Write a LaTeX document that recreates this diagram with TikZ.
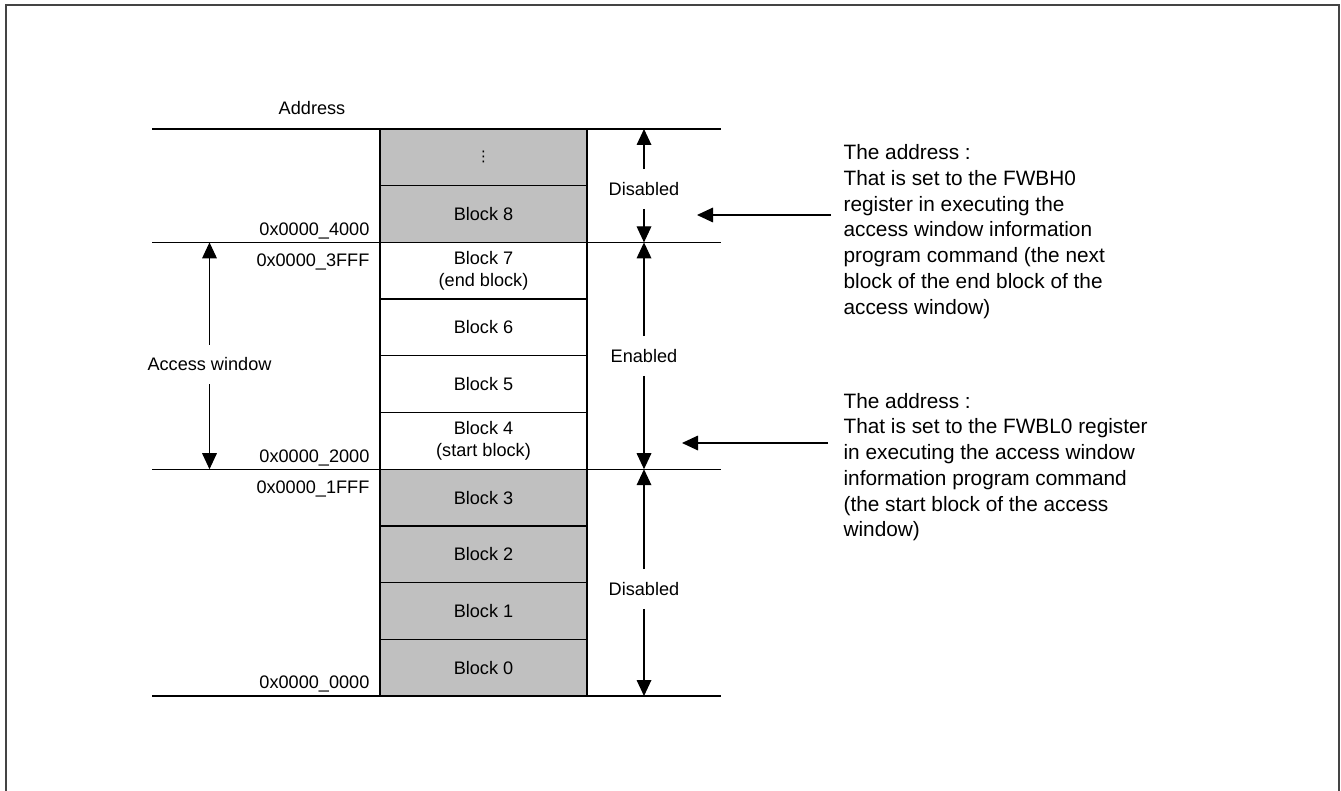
\documentclass[tikz,border=0pt]{standalone}
\usepackage{fontspec}
\setmainfont{Liberation Sans}
\newfontfamily\symfont{DejaVu Sans}
\usetikzlibrary{arrows.meta}
\definecolor{blockgray}{HTML}{C0C0C0}
\definecolor{framecol}{HTML}{444444}
\newcommand\mainfs{\fontsize{13.6pt}{16.9pt}\selectfont}
\newcommand\callfs{\fontsize{15.6pt}{19.3pt}\selectfont}
\begin{document}
\begin{tikzpicture}[x=0.75pt,y=-0.75pt,line width=0.9pt,
  every node/.style={font=\mainfs,inner sep=0pt},
  blk/.style={draw=black,line width=0.9pt,minimum width=155.25pt,minimum height=42.525pt,align=center},
  dis/.style={blk,fill=blockgray},
  ena/.style={blk,fill=white},
  rule/.style={line width=0.9pt},
  dim/.style={-{Triangle[length=12pt,width=11pt]},line width=0.9pt},
  lbl/.style={minimum height=29pt},
  addr/.style={anchor=base east},
  callout/.style={anchor=north west,align=left,font=\callfs}]
\useasboundingbox (0,0) rectangle (1341,791);
% frame
\draw[framecol,line width=1.3pt] (6,800) -- (6,5) -- (1339,5) -- (1339,800);

% horizontal rules
\coordinate (l1) at (152,129); \coordinate (r1) at (721,129);
\coordinate (l2) at (152,242.4); \coordinate (r2) at (721,242.4);
\coordinate (l3) at (152,469.2); \coordinate (r3) at (721,469.2);
\coordinate (l4) at (152,696); \coordinate (r4) at (721,696);
\draw[rule] (l1) -- (r1);
\draw[rule] (l2) -- (r2);
\draw[rule] (l3) -- (r3);
\draw[rule] (l4) -- (r4);

% blocks
\node[dis] (bdots) at (483.5,157.35) {{\symfont\fontsize{11pt}{12pt}\selectfont ⋮}};
\node[dis] (b8) at (483.5,214.05) {Block 8};
\node[ena] (b7) at (483.5,270.75) {Block 7\\(end block)};
\node[ena] (b6) at (483.5,327.45) {Block 6};
\node[ena] (b5) at (483.5,384.15) {Block 5};
\node[ena] (b4) at (483.5,440.85) {Block 4\\(start block)};
\node[dis] (b3) at (483.5,497.55) {Block 3};
\node[dis] (b2) at (483.5,554.25) {Block 2};
\node[dis] (b1) at (483.5,610.95) {Block 1};
\node[dis] (b0) at (483.5,667.65) {Block 0};

% address labels
\node (addrhead) at (312,108) {Address};
\node[addr] (a4000) at (370,236) {0x0000\_4000};
\node[addr] (a3fff) at (370,267) {0x0000\_3FFF};
\node[addr] (a2000) at (370,462) {0x0000\_2000};
\node[addr] (a1fff) at (370,493) {0x0000\_1FFF};
\node[addr] (a0000) at (370,688) {0x0000\_0000};

% access window
\node[lbl] (aw) at (209.5,364.5) {Access window};
\coordinate (awt) at (209.5,242.4);
\coordinate (awb) at (209.5,469.2);
\draw[dim] (aw) -- (awt);
\draw[dim] (aw) -- (awb);

% right dimension arrows
\node[lbl] (d1) at (644,189) {Disabled};
\coordinate (d1t) at (644,129); \coordinate (d1b) at (644,242.4);
\draw[dim] (d1) -- (d1t); \draw[dim] (d1) -- (d1b);
\node[lbl] (en) at (644,356) {Enabled};
\coordinate (ent) at (644,242.4); \coordinate (enb) at (644,469.2);
\draw[dim] (en) -- (ent); \draw[dim] (en) -- (enb);
\node[lbl] (d2) at (644,589) {Disabled};
\coordinate (d2t) at (644,469.2); \coordinate (d2b) at (644,696);
\draw[dim] (d2) -- (d2t); \draw[dim] (d2) -- (d2b);

% callouts
\node[callout] (c1) at (843,144) {The address :\\That is set to the FWBH0\\register in executing the\\access window information\\program command (the next\\block of the end block of the\\access window)};
\node[callout] (c2) at (843,392.5) {The address :\\That is set to the FWBL0 register\\in executing the access window\\information program command\\(the start block of the access\\window)};
\coordinate (p1a) at (831,215); \coordinate (p1b) at (697,215);
\draw[dim] (p1a) -- (p1b);
\coordinate (p2a) at (828,443); \coordinate (p2b) at (682,443);
\draw[dim] (p2a) -- (p2b);
\end{tikzpicture}
\end{document}
